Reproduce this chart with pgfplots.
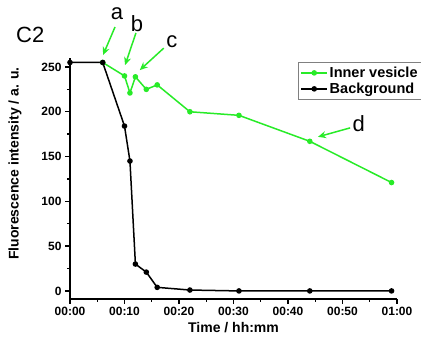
\documentclass[border=0pt]{standalone}
\usepackage{pgfplots}
\pgfplotsset{compat=1.18}
\usepackage{fontspec}
\setmainfont{Liberation Sans}
\usetikzlibrary{arrows.meta}
\definecolor{lime}{RGB}{40,235,40}
\begin{document}
\begin{tikzpicture}
\begin{axis}[
  scale only axis,
  width=327bp, height=241bp,
  xmin=0, xmax=60, ymin=-9, ymax=260,
  axis lines*=left,
  axis line style={line width=1.8bp},
  clip=false,
  xtick={0,10,20,30,40,50,60},
  xticklabels={00:00,00:10,00:20,00:30,00:40,00:50,01:00},
  ytick={0,50,100,150,200,250},
  minor x tick num=1, minor y tick num=1,
  tick align=outside,
  major tick length=5bp, minor tick length=3bp,
  tick style={line width=1.4bp, black},
  /pgf/number format/assume math mode=true,
  ticklabel style={font=\fontsize{12bp}{14bp}\selectfont\bfseries},
  xlabel={Time / hh:mm},
  ylabel={Fluorescence intensity / a. u.},
  label style={font=\fontsize{14bp}{16bp}\selectfont\bfseries},
  xlabel style={at={(axis description cs:0.5,-0.12)}, anchor=center},
  ylabel style={at={(axis description cs:-0.168,0.562)}, anchor=center, rotate=0},
  legend style={at={(axis description cs:0.697,0.983)}, anchor=north west,
    draw=gray, line width=0.6bp, font=\fontsize{14.5bp}{16bp}\selectfont\bfseries,
    inner sep=2.5bp, row sep=0bp},
  legend cell align=left,
  legend image code/.code={\draw[mark repeat=2,mark phase=2,#1] plot coordinates {(0cm,0cm) (0.45cm,0cm) (0.9cm,0cm)};},
]
\addplot[lime, line width=1.5bp, mark=*, mark size=2bp, mark options={fill=lime,draw=lime}]
  coordinates {(6,255) (10,240) (11,221) (12,239) (14,225) (16,230) (22,200) (31,196) (44,167) (59,121)};
\addlegendentry{Inner vesicle}
\addplot[black, line width=1.5bp, mark=*, mark size=2bp, mark options={fill=black}]
  coordinates {(0,255) (6,255) (10,184) (11,145) (12,30) (14,21) (16,4) (22,1) (31,0) (44,0) (59,0)};
\addlegendentry{Background}
\node[font=\fontsize{22bp}{24bp}\selectfont] at (axis cs:-7.3,285.6) {C2};
\node[font=\fontsize{22bp}{24bp}\selectfont] at (axis cs:8.6,309) {a};
\node[font=\fontsize{22bp}{24bp}\selectfont] at (axis cs:12.3,298) {b};
\node[font=\fontsize{22bp}{24bp}\selectfont] at (axis cs:18.7,278) {c};
\node[font=\fontsize{22bp}{24bp}\selectfont] at (axis cs:53.0,187) {d};
\draw[lime, line width=1.5bp, -{Stealth[length=8bp,width=7bp]}] (axis cs:8.26,294.6) -- (axis cs:6.06,263.3);
\draw[lime, line width=1.5bp, -{Stealth[length=8bp,width=7bp]}] (axis cs:12.1,288) -- (axis cs:10.1,252);
\draw[lime, line width=1.5bp, -{Stealth[length=8bp,width=7bp]}] (axis cs:17.2,271) -- (axis cs:12.8,246.5);
\draw[lime, line width=1.5bp, -{Stealth[length=8bp,width=7bp]}] (axis cs:51.4,182) -- (axis cs:45.5,172);
\coordinate (bl) at (rel axis cs:-0.2141,-0.1909);
\coordinate (tr) at (rel axis cs:1.0734,1.2407);
\end{axis}
\pgfresetboundingbox
\path[use as bounding box] (bl) rectangle (tr);
\end{tikzpicture}
\end{document}
